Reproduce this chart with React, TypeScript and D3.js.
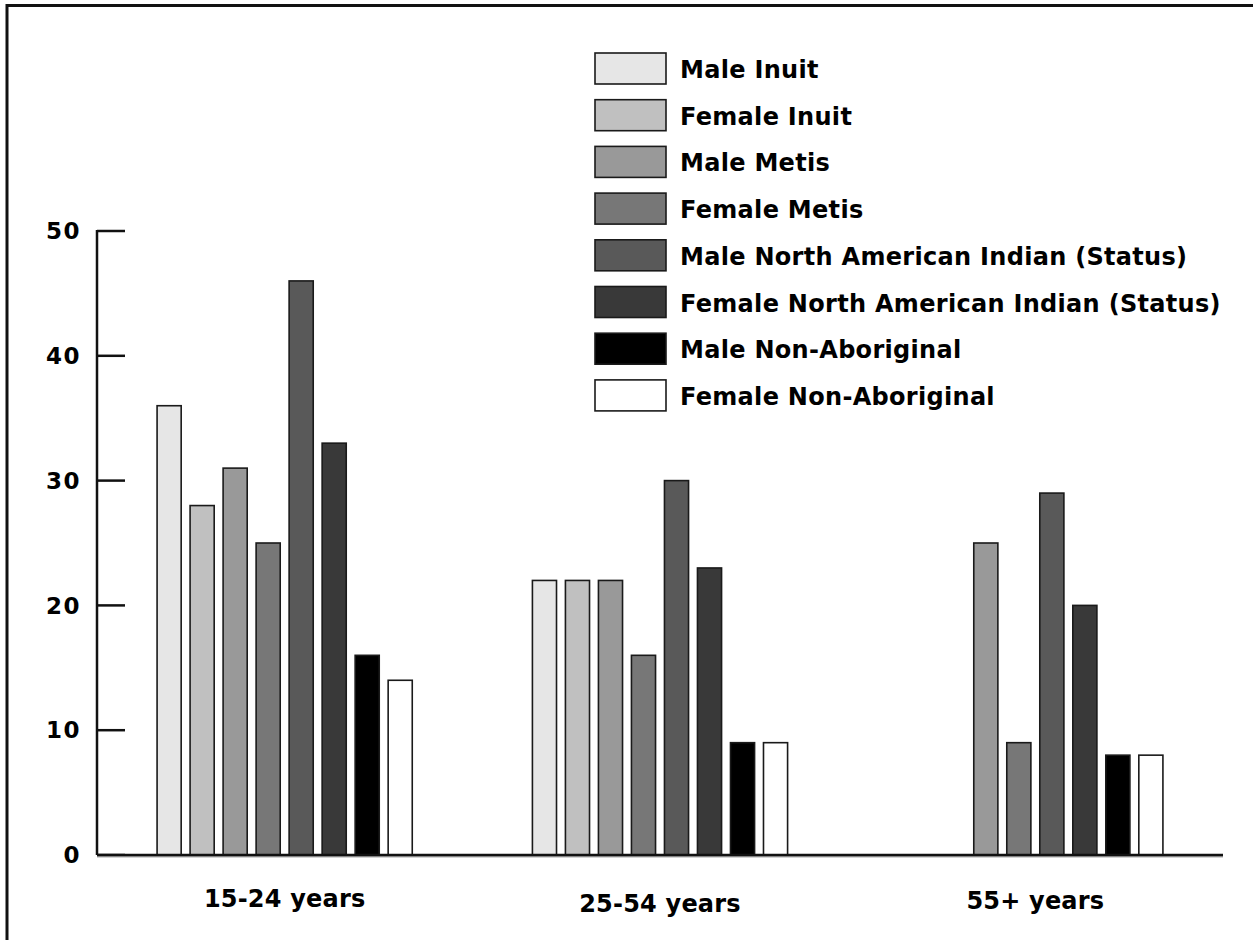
import { scaleBand, scaleLinear } from 'd3'

const groups = ['15-24 years', '25-54 years', '55+ years']
const series = [
  'Male Inuit',
  'Female Inuit',
  'Male Metis',
  'Female Metis',
  'Male North American Indian (Status)',
  'Female North American Indian (Status)',
  'Male Non-Aboriginal',
  'Female Non-Aboriginal',
]
const fills = ['#e6e6e6', '#c0c0c0', '#999999', '#777777', '#595959', '#393939', '#000000', '#ffffff']

// one array per age group, in series order; null = no bar
const young = [36, 28, 31, 25, 46, 33, 16, 14]
const middle = [22, 22, 22, 16, 30, 23, 9, 9]
const older = [null, null, 25, 9, 29, 20, 8, 8]
const values = [young, middle, older]

const yTicks = [0, 10, 20, 30, 40, 50]
const labelDy = [0, 5, 2] // category labels sit slightly staggered in the original

const W = 1253
const H = 940
const font = '"DejaVu Sans", sans-serif'

export default function App() {
  const x0 = 97
  const x1 = 1223
  const y = scaleLinear().domain([0, 50]).range([855, 231])
  const gx = scaleBand().domain(groups).range([x0, x1]).padding(0)
  const sx = scaleBand()
    .domain(series)
    .range([0, gx.bandwidth()])
    .paddingInner(0.27)
    .paddingOuter(1.82)

  return (
    <svg width={W} height={H} style={{ position: 'absolute', left: 0, top: 0, background: '#fff' }}>
      {/* outer frame, runs off the right and bottom */}
      <rect x={7} y={5.5} width={W + 20} height={H + 20} fill='none' stroke='#111' strokeWidth={3} />

      {/* bars */}
      {groups.map((g, gi) => (
        <g key={g} transform={`translate(${gx(g)},0)`}>
          {series.map((s, si) => {
            const v = values[gi][si]
            if (v == null) return null
            return (
              <rect
                key={s}
                x={sx(s)}
                y={y(v)}
                width={sx.bandwidth()}
                height={y(0) - y(v)}
                fill={fills[si]}
                stroke='#1a1a1a'
                strokeWidth={1.6}
              />
            )
          })}
        </g>
      ))}

      {/* y axis */}
      <line x1={x0} x2={x0} y1={y(50) - 1} y2={y(0)} stroke='#111' strokeWidth={2.5} />
      {yTicks.map(t => (
        <g key={t}>
          <line x1={x0} x2={x0 + 28} y1={y(t)} y2={y(t)} stroke='#111' strokeWidth={2.5} />
          <text
            x={81}
            y={y(t)}
            dy='0.36em'
            textAnchor='end'
            fontFamily={font}
            fontWeight='bold'
            fontSize={23}
            letterSpacing={1.5}
            fill='#000'
          >
            {t}
          </text>
        </g>
      ))}

      {/* baseline */}
      <line x1={x0} x2={x1} y1={y(0) + 1.5} y2={y(0) + 1.5} stroke='#aaa' strokeWidth={2} />
      <line x1={x0} x2={x1} y1={y(0)} y2={y(0)} stroke='#111' strokeWidth={2.5} />

      {/* category labels */}
      {groups.map((g, gi) => (
        <text
          key={g}
          x={(gx(g) ?? 0) + gx.bandwidth() / 2}
          y={907 + labelDy[gi]}
          textAnchor='middle'
          fontFamily={font}
          fontWeight='bold'
          fontSize={24}
          letterSpacing={0.2}
          fill='#000'
        >
          {g}
        </text>
      ))}

      {/* legend */}
      {series.map((s, i) => {
        const top = 53 + i * 46.7
        return (
          <g key={s}>
            <rect x={595} y={top} width={71} height={31} fill={fills[i]} stroke='#1a1a1a' strokeWidth={1.6} />
            <text
              x={680}
              y={top + 25}
              fontFamily={font}
              fontWeight='bold'
              fontSize={24}
              letterSpacing={0.3}
              fill='#000'
            >
              {s}
            </text>
          </g>
        )
      })}
    </svg>
  )
}
